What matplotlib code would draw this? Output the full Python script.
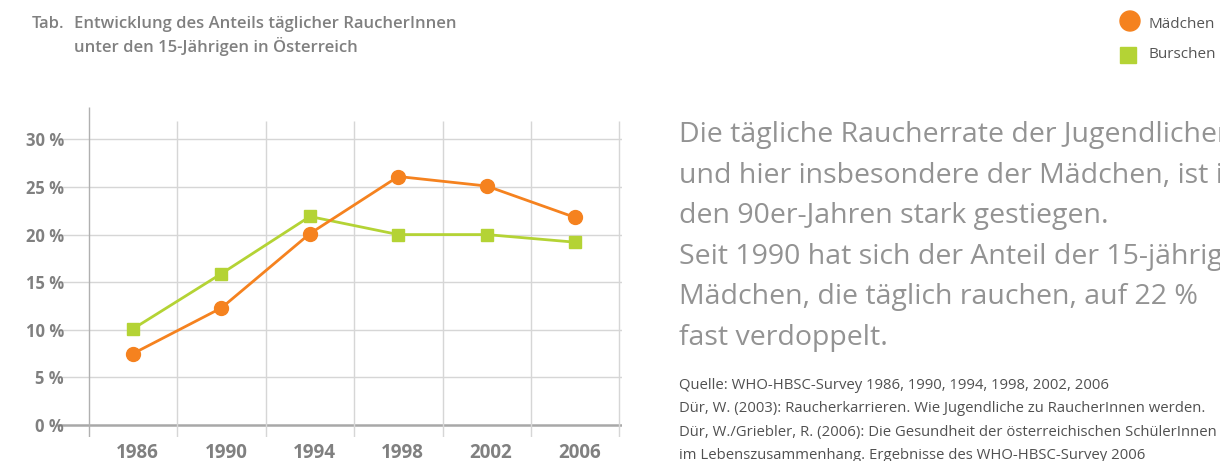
import matplotlib
matplotlib.use("Agg")
import matplotlib.pyplot as plt
from matplotlib.patches import Circle, Rectangle

years = ["1986", "1990", "1994", "1998", "2002", "2006"]
maedchen = [7.5, 12.3, 20.1, 26.1, 25.1, 21.8]
burschen = [10.1, 15.9, 21.9, 20.0, 20.0, 19.2]
yticks = [0, 5, 10, 15, 20, 25, 30]
ytick_labels = ["0 %", "5 %", "10 %", "15 %", "20 %", "25 %", "30 %"]

ORANGE = "#F5821F"
GREEN = "#B4D335"
GRID = "#d6d6d6"
TXT = "#808080"

plt.rcParams['font.family'] = ['Open Sans', 'DejaVu Sans']

fig = plt.figure(figsize=(12.2, 4.61), dpi=100)
ax = fig.add_axes([57/1220, 24/461, 565/1220, 330/461])
x = list(range(len(years)))
ax.set_xlim(-0.86, 5.53)
ax.set_ylim(-1.26, 33.4)

for s in ax.spines.values():
    s.set_visible(False)

# horizontal gridlines
for v in yticks:
    if v == 0:
        ax.axhline(v, color="#a8a8a8", lw=1.8, zorder=1)
    else:
        ax.axhline(v, color=GRID, lw=1.0, zorder=1)
# vertical gridlines
for i in range(len(years)):
    ax.vlines(i + 0.5, -1.26, 31.9, color=GRID, lw=1.0, zorder=1)
ax.vlines(-0.5, -1.26, 33.4, color="#b0b0b0", lw=1.0, zorder=1)

ax.plot(x, burschen, color=GREEN, lw=2, marker="s", markersize=9, zorder=3)
ax.plot(x, maedchen, color=ORANGE, lw=2, marker="o", markersize=10, zorder=4)

ax.set_yticks(yticks)
ax.set_yticklabels(ytick_labels)
ax.set_xticks([i + 0.05 for i in x])
ax.set_xticklabels(years)
ax.tick_params(length=0)
ax.tick_params(axis="y", pad=-5)
for lab in ax.get_yticklabels():
    lab.set_fontsize(12)
    lab.set_fontweight("bold")
    lab.set_color(TXT)
for lab in ax.get_xticklabels():
    lab.set_fontsize(13.5)
    lab.set_fontweight("bold")
    lab.set_color(TXT)
ax.tick_params(axis="x", pad=4)

# title
fig.text(32/1220, 1 - 24/461, "Tab.", fontsize=12, fontweight="semibold", color=TXT, va="center")
fig.text(74/1220, 1 - 24/461, "Entwicklung des Anteils täglicher RaucherInnen",
         fontsize=12, fontweight="semibold", color=TXT, va="center")
fig.text(74/1220, 1 - 47/461, "unter den 15-Jährigen in Österreich",
         fontsize=12, fontweight="semibold", color=TXT, va="center")

# legend
fig.patches.append(Circle((1130, 461 - 21), 10, transform=None, color=ORANGE))
fig.patches.append(Rectangle((1120, 461 - 63), 16, 16, transform=None, color=GREEN))
fig.text(1148/1220, 1 - 25/461, "Mädchen", fontsize=11, color="#555555", va="center")
fig.text(1148/1220, 1 - 55/461, "Burschen", fontsize=11, color="#555555", va="center")

# big text
big = ["Die tägliche Raucherrate der Jugendlichen",
       "und hier insbesondere der Mädchen, ist in",
       "den 90er-Jahren stark gestiegen.",
       "Seit 1990 hat sich der Anteil der 15-jährigen",
       "Mädchen, die täglich rauchen, auf 22 %",
       "fast verdoppelt."]
for k, line in enumerate(big):
    fig.text(679/1220, 1 - (135 + 40.6 * k)/461, line, fontsize=20.5, color="#939393", va="center")

src = ["Quelle: WHO-HBSC-Survey 1986, 1990, 1994, 1998, 2002, 2006",
       "Dür, W. (2003): Raucherkarrieren. Wie Jugendliche zu RaucherInnen werden.",
       "Dür, W./Griebler, R. (2006): Die Gesundheit der österreichischen SchülerInnen",
       "im Lebenszusammenhang. Ergebnisse des WHO-HBSC-Survey 2006"]
for k, line in enumerate(src):
    fig.text(679/1220, 1 - (385 + 23.5 * k)/461, line, fontsize=10.7, color="#505050", va="center")

fig.savefig("out.png", dpi=100)
